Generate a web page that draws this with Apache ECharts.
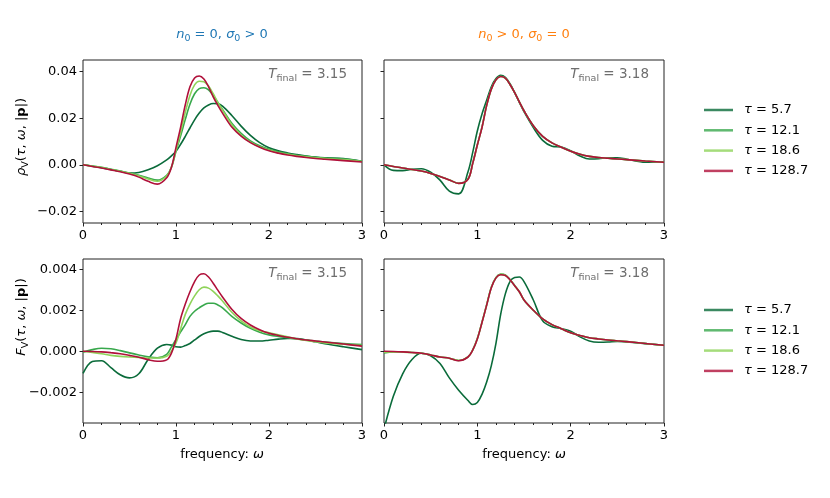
<!DOCTYPE html>
<html>
<head>
<meta charset="utf-8">
<script src="https://cdn.jsdelivr.net/npm/echarts@6/dist/echarts.min.js"></script>
<style>
  html, body { margin: 0; padding: 0; background: #fff; }
  #chart { width: 830px; height: 498px; }
</style>
</head>
<body>
<div id="chart"></div>
<script>
// frequency grid (shared by all curves)
var omega = [0, 0.1, 0.2, 0.3, 0.4, 0.5, 0.6, 0.7, 0.8, 0.9, 0.95, 1.0, 1.05, 1.1, 1.15, 1.2, 1.25, 1.3, 1.35, 1.4, 1.45, 1.5,
  1.6, 1.7, 1.8, 1.9, 2.0, 2.1, 2.2, 2.3, 2.4, 2.5, 2.6, 2.8, 3.0];

var tauNames = ["5.7", "12.1", "18.6", "128.7"];
var tauColors = ["#0a6b3a", "#38a84c", "#8fd35a", "#b0103a"];

// rho_V, n0 = 0, sigma0 > 0
var rhoSigma57 = [0, -0.0006, -0.0013, -0.002, -0.0028, -0.0036, -0.0033, -0.0021, -0.0004, 0.0021, 0.0038, 0.0058, 0.0088, 0.0122,
  0.0158, 0.0193, 0.0222, 0.0244, 0.0257, 0.0263, 0.0262, 0.0252, 0.0212, 0.0166, 0.0126, 0.0095, 0.0073, 0.006, 0.0051, 0.0044,
  0.0038, 0.0033, 0.003, 0.0027, 0.0015];
var rhoSigma121 = [0, -0.0005, -0.0011, -0.0019, -0.0027, -0.0035, -0.0045, -0.0057, -0.0066, -0.0045, -0.0012, 0.0058, 0.0125,
  0.0195, 0.026, 0.0305, 0.0327, 0.0331, 0.0322, 0.0298, 0.0268, 0.0238, 0.0178, 0.0135, 0.0103, 0.0082, 0.0067, 0.0056, 0.0048,
  0.0041, 0.0036, 0.0032, 0.0029, 0.0025, 0.0015];
var rhoSigma186 = [0, -0.0006, -0.0012, -0.002, -0.0028, -0.0036, -0.0047, -0.0061, -0.0071, -0.0048, -0.0012, 0.0062, 0.014,
  0.0225, 0.0298, 0.0343, 0.0359, 0.0357, 0.0338, 0.0305, 0.0268, 0.0235, 0.0172, 0.0128, 0.0097, 0.0077, 0.0063, 0.0052, 0.0045,
  0.0039, 0.0034, 0.003, 0.0027, 0.0022, 0.0014];
var rhoSigma1287 = [0, -0.0007, -0.0014, -0.0022, -0.003, -0.004, -0.0053, -0.0071, -0.0083, -0.0056, -0.0012, 0.0075, 0.0162,
  0.0258, 0.0335, 0.0373, 0.0381, 0.0368, 0.0335, 0.0292, 0.0255, 0.0222, 0.0162, 0.0123, 0.0095, 0.0075, 0.006, 0.005, 0.0042,
  0.0036, 0.0031, 0.0027, 0.0024, 0.0018, 0.0012];

// rho_V, n0 > 0, sigma0 = 0
var rhoN57 = [0, -0.0024, -0.0025, -0.0019, -0.0017, -0.0032, -0.0066, -0.0113, -0.0125, -0.003, 0.0052, 0.0145, 0.0218, 0.0277,
  0.0335, 0.037, 0.0384, 0.0375, 0.0348, 0.031, 0.0268, 0.0228, 0.016, 0.0105, 0.008, 0.0076, 0.006, 0.0038, 0.0025, 0.0026,
  0.003, 0.003, 0.0024, 0.0011, 0.0013];
var rhoN121 = [0, -0.0007, -0.0014, -0.002, -0.0027, -0.0037, -0.005, -0.0065, -0.0079, -0.0061, 0.0006, 0.0086, 0.0162,
  0.0256, 0.0326, 0.0366, 0.038, 0.0372, 0.0345, 0.031, 0.027, 0.0232, 0.0168, 0.0122, 0.0094, 0.0075, 0.0058, 0.0045, 0.0036,
  0.0031, 0.0028, 0.0025, 0.0022, 0.0016, 0.0011];
var rhoN186 = [0, -0.0007, -0.0014, -0.002, -0.0027, -0.0037, -0.005, -0.0065, -0.008, -0.0062, 0.0005, 0.0085, 0.0161,
  0.0255, 0.0325, 0.0365, 0.0379, 0.0372, 0.0345, 0.031, 0.027, 0.0232, 0.0168, 0.0122, 0.0094, 0.0075, 0.0058, 0.0045, 0.0036,
  0.0031, 0.0028, 0.0025, 0.0022, 0.0016, 0.0011];
var rhoN1287 = [0, -0.0007, -0.0014, -0.002, -0.0027, -0.0037, -0.005, -0.0065, -0.008, -0.0062, 0.0005, 0.0085, 0.016,
  0.0255, 0.0325, 0.0365, 0.0379, 0.0372, 0.0345, 0.031, 0.027, 0.0232, 0.0168, 0.0122, 0.0094, 0.0075, 0.0058, 0.0045, 0.0036,
  0.0031, 0.0028, 0.0025, 0.0022, 0.0016, 0.0011];

// F_V, n0 = 0, sigma0 > 0
var fSigma57 = [-0.00108, -0.0005, -0.00046, -0.0008, -0.00115, -0.0013, -0.0011, -0.0004, 0.00015, 0.00033, 0.0003, 0.00022,
  0.0002, 0.00028, 0.00038, 0.00055, 0.00072, 0.00085, 0.00094, 0.00098, 0.00098, 0.00092, 0.00073, 0.00057, 0.0005, 0.0005,
  0.00054, 0.00059, 0.00062, 0.00062, 0.00055, 0.00046, 0.00037, 0.00022, 0.00008];
var fSigma121 = [-0.00005, 0.00008, 0.00015, 0.00012, 0.00003, -0.00008, -0.00018, -0.00027, -0.00032, -0.00015, 0.0002,
  0.00057, 0.00095, 0.0013, 0.0017, 0.00195, 0.00212, 0.00226, 0.00234, 0.00234, 0.00226, 0.00212, 0.0017, 0.00138, 0.00112,
  0.00093, 0.0008, 0.00072, 0.00066, 0.0006, 0.00055, 0.0005, 0.00045, 0.00038, 0.00033];
var fSigma186 = [0, -0.00006, -0.00012, -0.0002, -0.00025, -0.00028, -0.0003, -0.00033, -0.00033, -0.00024, 0.0,
  0.0004, 0.0011, 0.0018, 0.0023, 0.0027, 0.003, 0.00313, 0.00308, 0.00292, 0.0027, 0.00245, 0.0019, 0.00148, 0.00118, 0.001,
  0.0009, 0.0008, 0.0007, 0.0006, 0.00053, 0.00046, 0.00041, 0.00034, 0.00028];
var fSigma1287 = [0, -0.00001, -0.00003, -0.00007, -0.00012, -0.0002, -0.00029, -0.00041, -0.00049, -0.00042, -0.0001,
  0.0006, 0.0016, 0.0023, 0.0029, 0.0034, 0.00372, 0.00378, 0.00362, 0.00332, 0.00298, 0.00265, 0.00205, 0.0016, 0.00128,
  0.00105, 0.00088, 0.00077, 0.00068, 0.00061, 0.00055, 0.0005, 0.00045, 0.00035, 0.00025];

// F_V, n0 > 0, sigma0 = 0
var fN57 = [-0.0038, -0.0022, -0.0011, -0.0004, -0.0001, -0.00022, -0.0006, -0.0013, -0.0019, -0.0024, -0.0026, -0.0025,
  -0.0021, -0.0015, -0.0007, 0.0004, 0.0018, 0.0028, 0.0034, 0.0036, 0.00362, 0.0034, 0.0025, 0.00148, 0.0012, 0.0011, 0.00098,
  0.0007, 0.0005, 0.00044, 0.00045, 0.00048, 0.00045, 0.00037, 0.00029];
var fN121 = [-0.00008, -0.00004, -0.00004, -0.00006, -0.0001, -0.00018, -0.00028, -0.00034, -0.00045, -0.00027, 0.00006,
  0.00062, 0.00142, 0.00227, 0.00312, 0.0036, 0.00376, 0.00372, 0.0035, 0.00321, 0.0029, 0.0025, 0.002, 0.00158, 0.0013,
  0.0011, 0.0009, 0.00077, 0.00066, 0.0006, 0.00055, 0.00051, 0.00047, 0.00038, 0.00029];
var fN186 = [-0.00005, -0.00003, -0.00004, -0.00006, -0.0001, -0.00018, -0.00028, -0.00034, -0.00045, -0.00028, 0.00005,
  0.00061, 0.00141, 0.00226, 0.00311, 0.00359, 0.00375, 0.00371, 0.00349, 0.0032, 0.0029, 0.0025, 0.002, 0.00158, 0.0013,
  0.0011, 0.0009, 0.00077, 0.00066, 0.0006, 0.00055, 0.00051, 0.00047, 0.00038, 0.00029];
var fN1287 = [0, -0.00001, -0.00003, -0.00006, -0.0001, -0.00018, -0.00028, -0.00034, -0.00046, -0.00028, 0.00005, 0.0006,
  0.0014, 0.00225, 0.0031, 0.00358, 0.00373, 0.0037, 0.00348, 0.0032, 0.0029, 0.0025, 0.002, 0.00158, 0.0013, 0.0011, 0.0009,
  0.00077, 0.00066, 0.0006, 0.00055, 0.00051, 0.00047, 0.00038, 0.00029];

// tick labels
var xTicks = [0, 1, 2, 3];
var rhoTicks = [-0.02, 0, 0.02, 0.04];
var fTicks = [-0.002, 0, 0.002, 0.004];

var FONT = "DejaVu Sans";
var panels = [
  { grid: { left: 83, top: 60, width: 279, height: 163 }, ymin: -0.025, ymax: 0.045, ticks: rhoTicks, dec: 2, labels: true,
    curves: [rhoSigma57, rhoSigma121, rhoSigma186, rhoSigma1287] },
  { grid: { left: 384, top: 60, width: 280, height: 163 }, ymin: -0.025, ymax: 0.045, ticks: rhoTicks, dec: 2, labels: false,
    curves: [rhoN57, rhoN121, rhoN186, rhoN1287] },
  { grid: { left: 83, top: 259, width: 279, height: 164 }, ymin: -0.0035, ymax: 0.0045, ticks: fTicks, dec: 3, labels: true,
    curves: [fSigma57, fSigma121, fSigma186, fSigma1287] },
  { grid: { left: 384, top: 259, width: 280, height: 164 }, ymin: -0.0035, ymax: 0.0045, ticks: fTicks, dec: 3, labels: false,
    curves: [fN57, fN121, fN186, fN1287] }
];

function fmtNum(v, dec) {
  return (v < 0 ? "\u2212" : "") + Math.abs(v).toFixed(dec);
}

var grids = [], xAxes = [], yAxes = [], series = [];
panels.forEach(function(p, k) {
  grids.push(Object.assign({ show: true, borderColor: "#222", borderWidth: 1, backgroundColor: "transparent" }, p.grid));
  xAxes.push({
    type: "value", gridIndex: k, min: 0, max: 3, interval: 1,
    axisLine: { show: false, onZero: false },
    axisTick: { show: true, length: 3.5, lineStyle: { color: "#222" } },
    minorTick: { show: true, splitNumber: 5, length: 2, lineStyle: { color: "#222" } },
    splitLine: { show: false },
    axisLabel: { show: true, margin: 6, color: "#000", fontFamily: FONT, fontSize: 13,
      customValues: xTicks, formatter: function(v) { return String(v); } }
  });
  yAxes.push({
    type: "value", gridIndex: k, min: p.ymin, max: p.ymax,
    axisLine: { show: false, onZero: false },
    axisTick: { show: true, length: 3.5, lineStyle: { color: "#222" }, customValues: p.ticks },
    splitLine: { show: false },
    axisLabel: { show: p.labels, margin: 6, color: "#000", fontFamily: FONT, fontSize: 13,
      customValues: p.ticks, formatter: function(v) { return fmtNum(v, p.dec); } }
  });
  p.curves.forEach(function(arr, i) {
    series.push({
      type: "line", name: "\u03c4 = " + tauNames[i], xAxisIndex: k, yAxisIndex: k,
      data: omega.map(function(w, j) { return [w, arr[j]]; }),
      symbol: "none", showSymbol: false, smooth: 0.35, clip: true,
      lineStyle: { width: 1.6, color: tauColors[i] },
      itemStyle: { color: tauColors[i] },
      emphasis: { disabled: true }
    });
  });
});

var legendNames = tauNames.map(function(t) { return "\u03c4 = " + t; });
function legendAt(top) {
  return {
    orient: "vertical", left: 704, top: top, padding: 0, itemGap: 4.3,
    icon: "rect", itemWidth: 29, itemHeight: 2.5,
    itemStyle: { opacity: 0.8 },
    data: legendNames,
    selectedMode: false,
    formatter: function(name) { return "{i|\u03c4} = " + name.split("= ")[1]; },
    textStyle: { fontFamily: FONT, fontSize: 13, color: "#000", lineHeight: 16, padding: [0, 0, 0, 6],
      rich: { i: { fontStyle: "italic", fontFamily: FONT, fontSize: 13, lineHeight: 16 } } }
  };
}

var subRich = {
  i: { fontStyle: "italic", fontFamily: FONT, fontSize: 13, lineHeight: 18 },
  s: { fontFamily: FONT, fontSize: 9.5, lineHeight: 11, verticalAlign: "bottom" },
  b: { fontWeight: "bold", fontFamily: FONT, fontSize: 13, lineHeight: 18 }
};
var annRich = {
  i: { fontStyle: "italic", fontFamily: FONT, fontSize: 13.5, lineHeight: 19, fill: "#6e6e6e" },
  s: { fontFamily: FONT, fontSize: 9.5, lineHeight: 11, verticalAlign: "bottom", fill: "#6e6e6e" }
};

function txt(x, y, text, fill, rich, fs, lh, align, rot) {
  return {
    type: "text", x: x, y: y, rotation: rot || 0, silent: true,
    style: { text: text, fill: fill, fontFamily: FONT, fontSize: fs, lineHeight: lh, align: align || "center",
      verticalAlign: "middle", rich: rich }
  };
}

var graphics = [
  txt(222, 35, "{i|n}{s|0} = 0, {i|\u03c3}{s|0} > 0", "#1f77b4", subRich, 13, 18),
  txt(524, 35, "{i|n}{s|0} > 0, {i|\u03c3}{s|0} = 0", "#ff7f0e", subRich, 13, 18),
  txt(347, 74, "{i|T}{s|final} = 3.15", "#6e6e6e", annRich, 13.5, 19, "right"),
  txt(649, 74, "{i|T}{s|final} = 3.18", "#6e6e6e", annRich, 13.5, 19, "right"),
  txt(347, 273, "{i|T}{s|final} = 3.15", "#6e6e6e", annRich, 13.5, 19, "right"),
  txt(649, 273, "{i|T}{s|final} = 3.18", "#6e6e6e", annRich, 13.5, 19, "right"),
  txt(22, 137, "{i|\u03c1}{s|V}({i|\u03c4}, {i|\u03c9}, |{b|p}|)", "#000", subRich, 13, 18, "center", Math.PI / 2),
  txt(22, 317, "{i|F}{s|V}({i|\u03c4}, {i|\u03c9}, |{b|p}|)", "#000", subRich, 13, 18, "center", Math.PI / 2),
  txt(222, 455, "frequency: {i|\u03c9}", "#000", subRich, 13, 18),
  txt(524, 455, "frequency: {i|\u03c9}", "#000", subRich, 13, 18)
];

var chart = echarts.init(document.getElementById("chart"), null, { renderer: "canvas" });
chart.setOption({
  animation: false,
  backgroundColor: "#fff",
  grid: grids,
  xAxis: xAxes,
  yAxis: yAxes,
  legend: [legendAt(102), legendAt(302)],
  graphic: graphics,
  series: series
});
</script>
</body>
</html>
